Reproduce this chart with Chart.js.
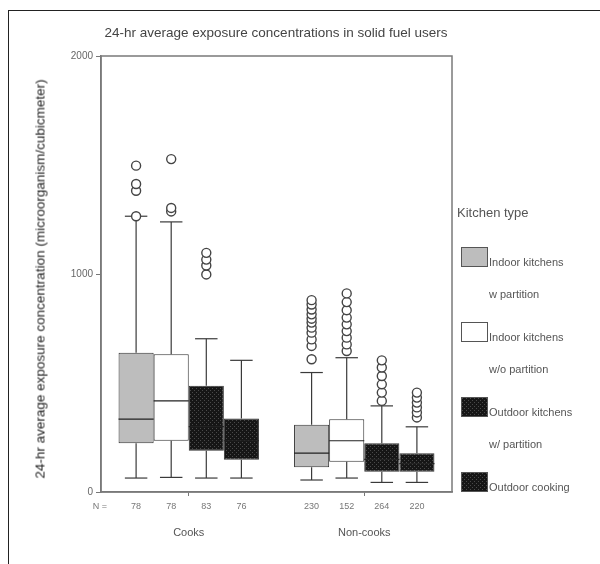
<!DOCTYPE html>
<html>
<head>
<meta charset="utf-8">
<script src="https://cdn.jsdelivr.net/npm/chart.js@4/dist/chart.umd.min.js"></script>
<style>
  body { margin: 0; background: #fff; overflow: hidden; font-family: Arial, "Liberation Sans", sans-serif; }
  #wrap { position: relative; width: 600px; height: 564px; }
  #frame { position: absolute; left: 8px; top: 10px; width: 700px; height: 700px;
           border-top: 1px solid #222; border-left: 1px solid #222; }
  #title { position: absolute; left: 0; top: 25px; width: 552px; text-align: center;
           font-size: 13.5px; color: #444; }
  #ytitle { position: absolute; left: 40px; top: 279px; transform: translate(-50%, -50%) rotate(-90deg);
            white-space: nowrap; font-size: 13.5px; color: #222; }
  #legend { position: absolute; left: 457px; top: 205px; color: #555; font-size: 11px; }
  #legend .head { font-size: 13px; margin-bottom: 27px; }
  #legend .item { position: relative; height: 75px; }
  #legend .sw { position: absolute; left: 4px; top: 0; width: 27px; height: 20px; box-sizing: border-box;
                border: 1px solid #555; }
  #legend .txt { position: absolute; left: 32px; top: -1px; line-height: 32px; white-space: nowrap; }
  canvas { position: absolute; left: 0; top: 0; }
</style>
</head>
<body>
<div id="wrap">
  <div id="frame"></div>
  <canvas id="box-chart" width="600" height="564"></canvas>
  <div id="title">24-hr average exposure concentrations in solid fuel users</div>
  <div id="ytitle">24-hr average exposure concentration (microorganism/cubicmeter)</div>
  <div id="legend"></div>
</div>
<script>
/* groups on the x axis, one box per kitchen type inside each group */
var groups = ['Cooks', 'Non-cooks'];
var kitchenTypes = [['Indoor kitchens', 'w partition'], ['Indoor kitchens', 'w/o partition'],
                    ['Outdoor kitchens', 'w/ partition'], ['Outdoor cooking']];
var yTicks = [0, 1000, 2000];

/* box statistics, [kitchen type][group] */
var whiskerLow  = [[64, 55], [67, 64], [64, 44], [64, 44]];
var quartile1   = [[224, 113], [235, 139], [189, 93], [148, 93]];
var medians     = [[334, 178], [418, 235], [300, 150], [235, 130]];
var quartile3   = [[639, 308], [632, 334], [487, 224], [337, 178]];
var whiskerHigh = [[1265, 548], [1239, 616], [703, 395], [604, 299]];
var outliers = [
	[[1265, 1382, 1413, 1497], [609, 670, 700, 731, 754, 777, 795, 815, 837, 860, 880]],
	[[1287, 1303, 1527], [647, 677, 708, 738, 769, 800, 834, 871, 911]],
	[[998, 1039, 1066, 1097], [418, 456, 494, 532, 571, 604]],
	[[], [342, 365, 388, 410, 433, 456]]
];
var sampleSizes = [[78, 230], [78, 152], [83, 264], [76, 220]];

/* dark dotted fill used for the outdoor boxes */
function dotPattern() {
	var c = document.createElement('canvas');
	c.width = 4; c.height = 4;
	var g = c.getContext('2d');
	g.fillStyle = '#161616';
	g.fillRect(0, 0, 4, 4);
	g.fillStyle = '#4a4a4a';
	g.fillRect(0, 0, 1, 1);
	g.fillRect(2, 2, 1, 1);
	return c;
}
var dots = dotPattern();
var dotFill = document.createElement('canvas').getContext('2d').createPattern(dots, 'repeat');
var fills = ['#bdbdbd', '#ffffff', dotFill, dotFill];
var swatchFills = ['#bdbdbd', '#ffffff', 'url(' + dots.toDataURL() + ')', 'url(' + dots.toDataURL() + ')'];

/* legend */
var legend = document.getElementById('legend');
var html = '<div class="head">Kitchen type</div>';
kitchenTypes.forEach(function(t, i) {
	html += '<div class="item"><div class="sw" style="background:' + swatchFills[i] + '"></div>' +
		'<div class="txt">' + t.join('<br>') + '</div></div>';
});
legend.innerHTML = html;

/* whiskers, medians, outliers and N counts on top of the floating bars */
var boxPlot = {
	id: 'boxPlot',
	beforeDatasetsDraw: function(chart) {
		var a = chart.chartArea, ctx = chart.ctx;
		ctx.save();
		ctx.strokeStyle = '#7a7a7a';
		ctx.lineWidth = 1.5;
		ctx.strokeRect(a.left, a.top, a.right - a.left, a.bottom - a.top);
		ctx.restore();
	},
	afterDatasetsDraw: function(chart) {
		var ctx = chart.ctx, y = chart.scales.y;
		function line(x1, y1, x2, y2) {
			ctx.beginPath(); ctx.moveTo(x1, y1); ctx.lineTo(x2, y2); ctx.stroke();
		}
		chart.data.datasets.forEach(function(ds, i) {
			chart.getDatasetMeta(i).data.forEach(function(bar, j) {
				var x = bar.x, half = bar.width / 2, cap = bar.width * 0.32;
				var yLo = y.getPixelForValue(whiskerLow[i][j]);
				var yQ1 = y.getPixelForValue(quartile1[i][j]);
				var yMd = y.getPixelForValue(medians[i][j]);
				var yQ3 = y.getPixelForValue(quartile3[i][j]);
				var yHi = y.getPixelForValue(whiskerHigh[i][j]);
				ctx.save();
				ctx.strokeStyle = '#3a3a3a';
				ctx.lineWidth = 1.2;
				line(x, yQ3, x, yHi);
				line(x, yQ1, x, yLo);
				line(x - cap, yHi, x + cap, yHi);
				line(x - cap, yLo, x + cap, yLo);
				ctx.strokeStyle = '#222';
				line(x - half, yMd, x + half, yMd);
				ctx.strokeStyle = '#444';
				ctx.lineWidth = 1.4;
				outliers[i][j].forEach(function(v) {
					ctx.beginPath();
					ctx.arc(x, y.getPixelForValue(v), 4.5, 0, Math.PI * 2);
					ctx.fillStyle = '#fff';
					ctx.fill();
					ctx.stroke();
				});
				ctx.fillStyle = '#777';
				ctx.font = '9px Arial';
				ctx.textAlign = 'center';
				ctx.textBaseline = 'middle';
				ctx.fillText(String(sampleSizes[i][j]), x, chart.chartArea.bottom + 15);
				ctx.restore();
			});
		});
		ctx.save();
		ctx.fillStyle = '#777';
		ctx.font = '9px Arial';
		ctx.textAlign = 'center';
		ctx.textBaseline = 'middle';
		ctx.fillText('N =', chart.chartArea.left - 1, chart.chartArea.bottom + 15);
		ctx.restore();
	}
};

var datasets = kitchenTypes.map(function(t, i) {
	return {
		label: t.join(' '),
		data: groups.map(function(g, j) { return [quartile1[i][j], quartile3[i][j]]; }),
		backgroundColor: fills[i],
		borderColor: '#333',
		borderWidth: 1,
		borderSkipped: false,
		categoryPercentage: 0.8,
		barPercentage: 1.0
	};
});

var ctx = document.getElementById('box-chart');
var myChart = new Chart(ctx, {
	type: 'bar',
	data: { labels: groups, datasets: datasets },
	options: {
		responsive: false,
		animation: false,
		layout: { padding: { left: 60, top: 56, right: 148, bottom: 0 } },
		plugins: { legend: { display: false }, tooltip: { enabled: false } },
		scales: {
			x: {
				grid: { drawOnChartArea: false, offset: false, tickLength: 4, color: '#777' },
				border: { color: '#7a7a7a', width: 1.5 },
				ticks: { color: '#555', font: { size: 11, family: 'Arial' }, padding: 30 },
				afterFit: function(scale) { scale.height = 72; }
			},
			y: {
				min: 0,
				max: 2000,
				afterBuildTicks: function(scale) {
					scale.ticks = yTicks.map(function(v) { return { value: v }; });
				},
				grid: { drawOnChartArea: false, tickLength: 5, color: '#777' },
				border: { color: '#7a7a7a', width: 1.5 },
				ticks: {
					color: '#666',
					font: { size: 10, family: 'Arial' },
					padding: 3,
					callback: function(v) { return String(v); }
				},
				afterFit: function(scale) { scale.width = 41; }
			}
		}
	},
	plugins: [boxPlot]
});
</script>
</body>
</html>
